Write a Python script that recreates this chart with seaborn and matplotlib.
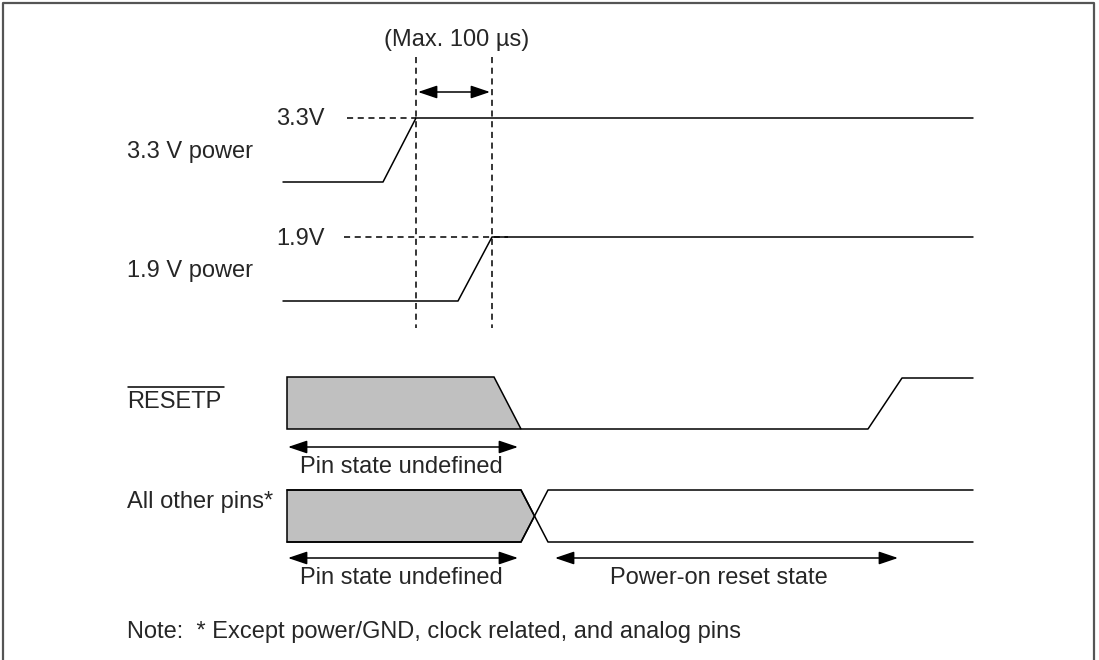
import numpy as np
import pandas as pd
import matplotlib.pyplot as plt
import seaborn as sns

sns.set_theme(style='white')
plt.rcParams['font.family'] = ['Liberation Sans', 'DejaVu Sans']

# waveform breakpoints (diagram units = pixels of the drawing)
v33_x = [283, 383, 416, 973]
v33_y = [182, 182, 118, 118]
v19_x = [283, 458, 492, 973]
v19_y = [301, 301, 237, 237]
reset_x = [521, 868, 902, 973]
reset_y = [429, 429, 378, 378]
other_top_x = [287, 521, 548, 973]
other_top_y = [490, 490, 542, 542]
other_bot_x = [287, 521, 548, 973]
other_bot_y = [542, 542, 490, 490]

# undefined (grey) regions
reset_grey_x = [287, 494, 521, 287]
reset_grey_y = [377, 377, 429, 429]
other_grey_x = [287, 521, 534.5, 521, 287]
other_grey_y = [490, 490, 516, 542, 542]

# reference markers
vlines_x = [416, 492]
vline_span = (57, 328)
hdash = [(347, 416, 118), (344, 508, 237)]

labels = ['3.3 V power', '1.9 V power', 'RESETP', 'All other pins*']
label_base = [158, 277, 408, 508]
levels = ['3.3V', '1.9V']
level_base = [125, 245]

rows = []
for name, xs, ys in [('v33', v33_x, v33_y), ('v19', v19_x, v19_y),
                     ('reset', reset_x, reset_y),
                     ('otop', other_top_x, other_top_y),
                     ('obot', other_bot_x, other_bot_y)]:
    for x, y in zip(xs, ys):
        rows.append({'x': x, 'y': y, 'trace': name})
df = pd.DataFrame(rows)

fig = plt.figure(figsize=(10.99, 6.6), dpi=100)
ax = fig.add_axes([0, 0, 1, 1])

ax.fill(reset_grey_x, reset_grey_y, facecolor='#c0c0c0', edgecolor='black', lw=1.1, zorder=2)
ax.fill(other_grey_x, other_grey_y, facecolor='#c0c0c0', edgecolor='black', lw=1.1, zorder=2)

sns.lineplot(data=df, x='x', y='y', units='trace', estimator=None, sort=False,
             color='black', lw=1.1, ax=ax, zorder=3)
ax.set_xlim(0, 1099)
ax.set_ylim(660, 0)
ax.axis('off')

for vx in vlines_x:
    ax.plot([vx, vx], list(vline_span), color='black', lw=1.1, ls=(0, (4, 3)))
for x0, x1, y in hdash:
    ax.plot([x0, x1], [y, y], color='black', lw=1.1, ls=(0, (4, 3)))

arrow = dict(arrowstyle='<|-|>,head_length=0.65,head_width=0.22', color='black',
             lw=1.1, mutation_scale=18, shrinkA=0, shrinkB=0)
ax.annotate('', xy=(418, 92), xytext=(490, 92), arrowprops=arrow)
ax.annotate('', xy=(288, 447), xytext=(518, 447), arrowprops=arrow)
ax.annotate('', xy=(288, 558), xytext=(518, 558), arrowprops=arrow)
ax.annotate('', xy=(555, 558), xytext=(898, 558), arrowprops=arrow)

fs = 17
for lab, yb in zip(labels, label_base):
    ax.text(127, yb, lab, fontsize=fs, va='baseline', ha='left')
ax.plot([128, 224], [387, 387], color='black', lw=1.1)
for lab, yb in zip(levels, level_base):
    ax.text(276, yb, lab, fontsize=fs, va='baseline', ha='left')

ax.text(457, 46, '(Max. 100 \u00b5s)', fontsize=fs, va='baseline', ha='center')
ax.text(401, 473, 'Pin state undefined', fontsize=fs, va='baseline', ha='center')
ax.text(401, 584, 'Pin state undefined', fontsize=fs, va='baseline', ha='center')
ax.text(719, 584, 'Power-on reset state', fontsize=fs, va='baseline', ha='center')
ax.text(127, 638, 'Note:  * Except power/GND, clock related, and analog pins',
        fontsize=fs, va='baseline', ha='left')

# frame
ax.plot([3, 3, 1094, 1094], [660, 3, 3, 660], color='#555555', lw=1.6, clip_on=False)

fig.savefig('out.png', dpi=100)
